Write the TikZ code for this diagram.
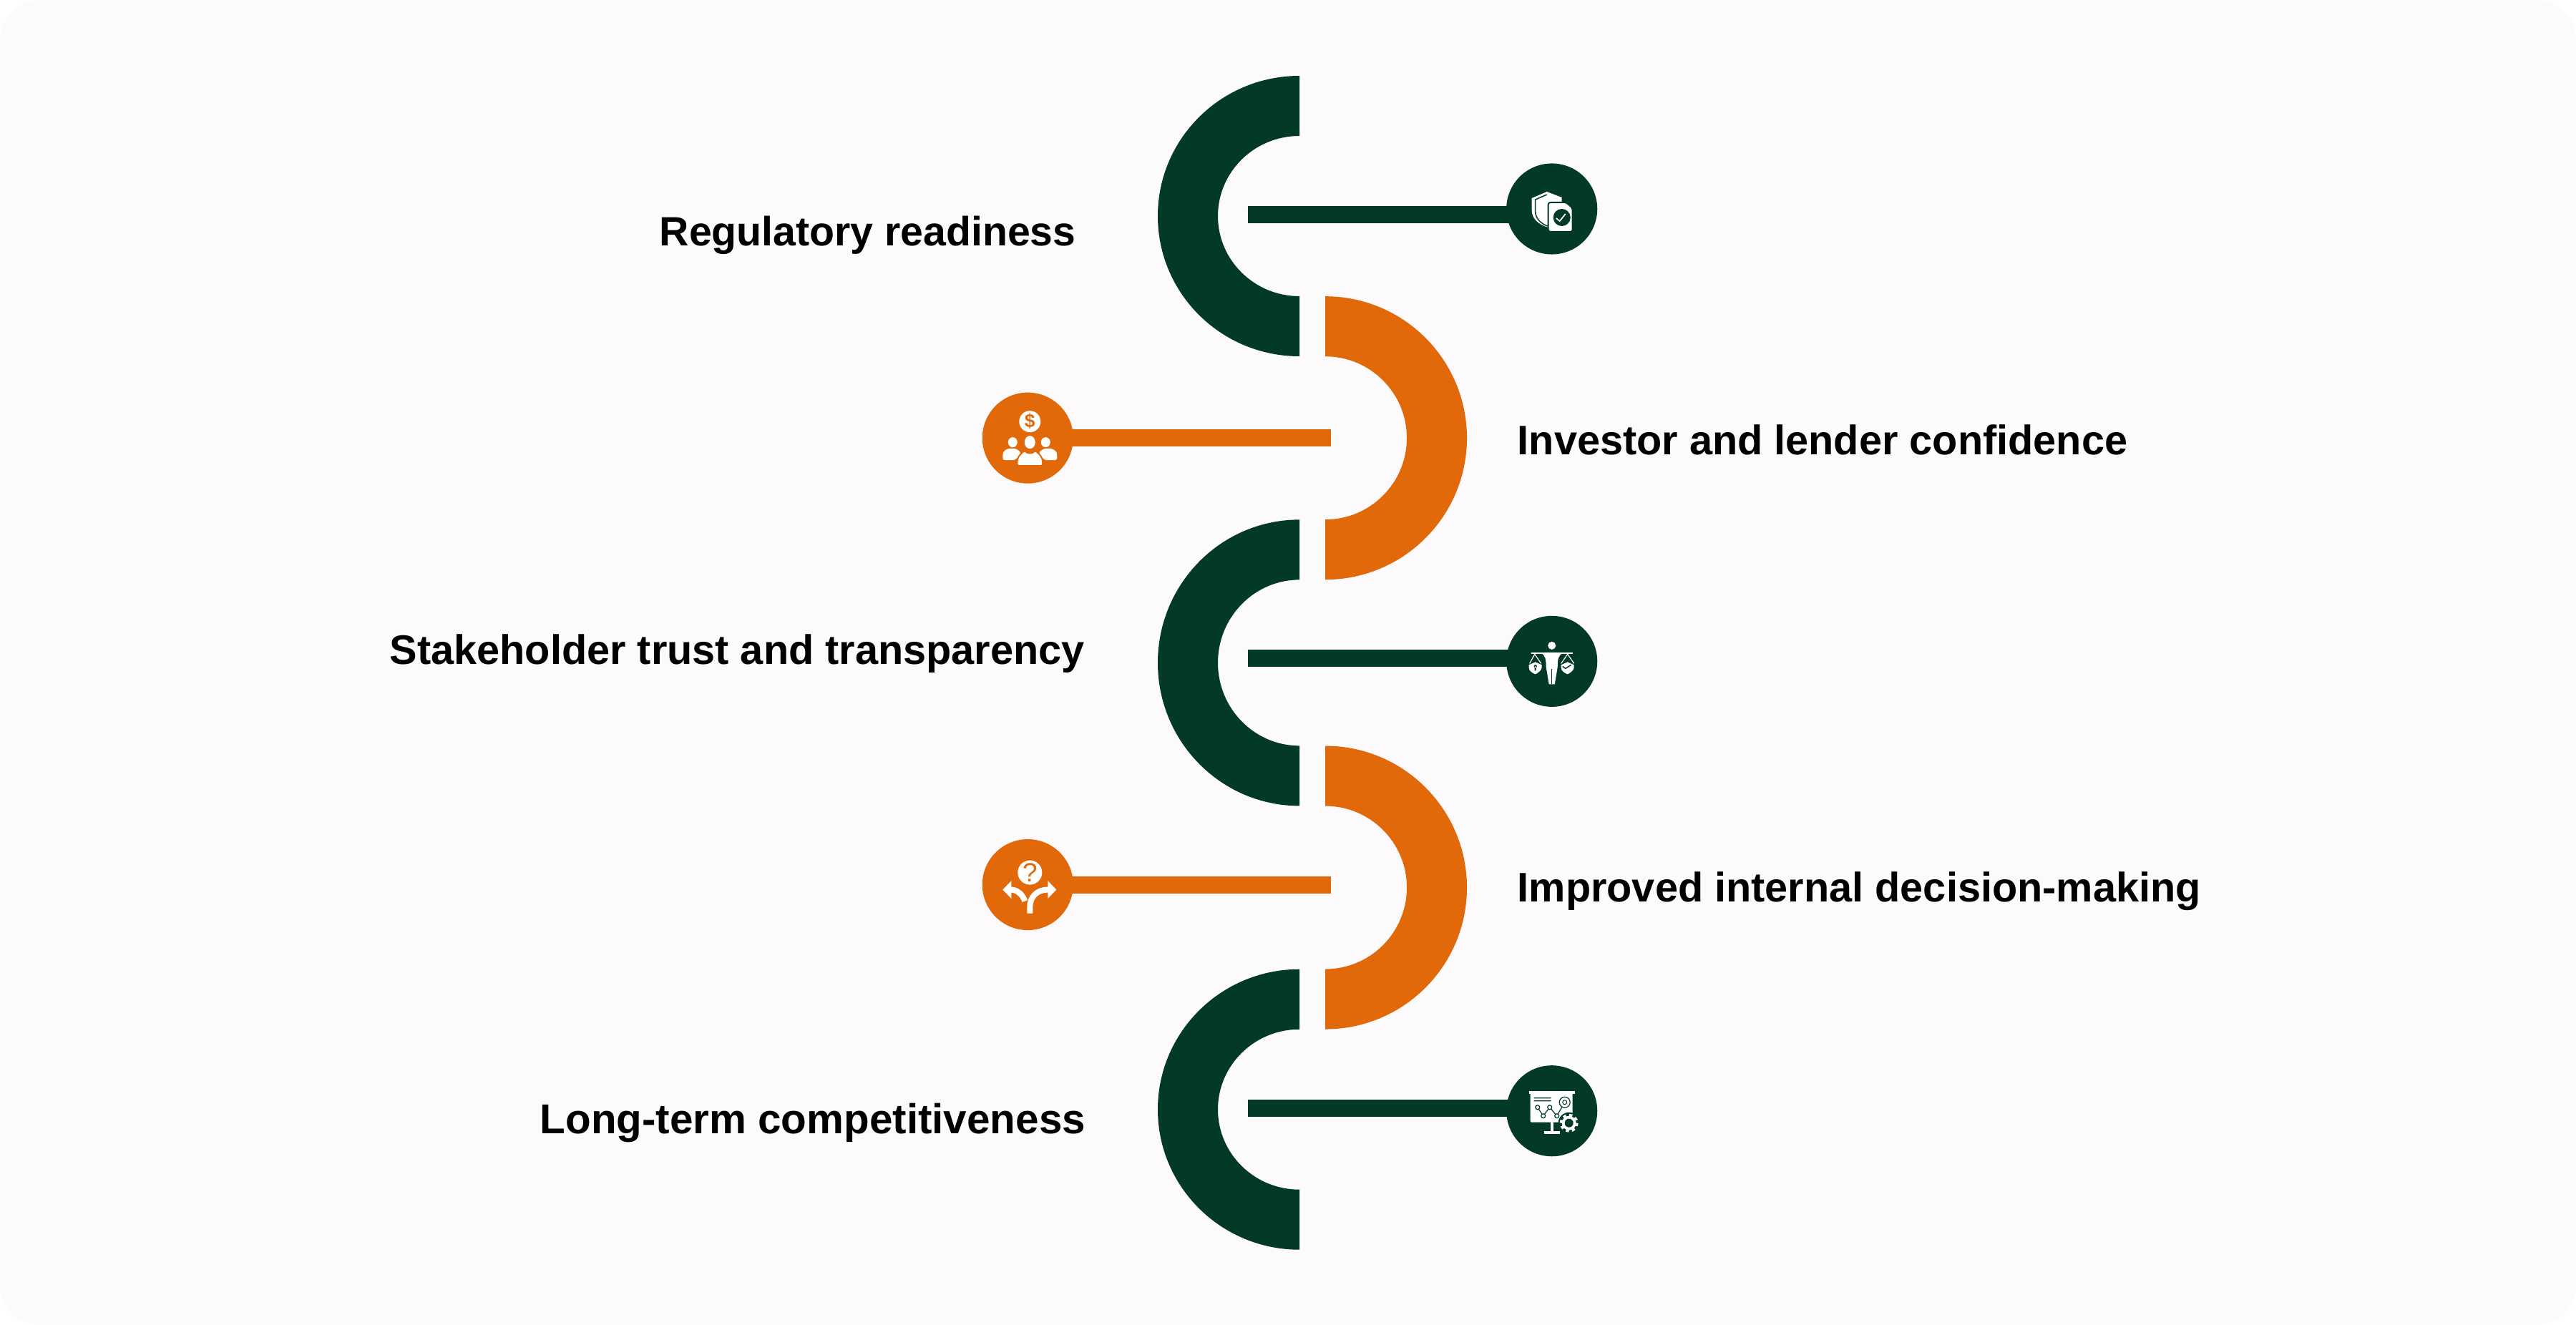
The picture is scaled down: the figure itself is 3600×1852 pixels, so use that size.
\documentclass[tikz,border=0pt]{standalone}
\usepackage{fontspec}
\setmainfont{Liberation Sans}
\usetikzlibrary{positioning, arrows.meta, calc}
\definecolor{page_bg}{HTML}{FCFAFD}
\definecolor{dark_green}{HTML}{023A27}
\definecolor{burnt_orange}{HTML}{E2690A}

\begin{document}
\begin{tikzpicture}[
  x=0.01cm, y=-0.01cm,
  ring_dark/.style = {fill=dark_green},
  ring_orange/.style = {fill=burnt_orange},
  link_dark/.style = {draw=dark_green, line width=0.24cm},
  link_orange/.style = {draw=burnt_orange, line width=0.24cm},
  disc_dark/.style = {circle, fill=dark_green, minimum size=1.27cm, inner sep=0pt, outer sep=0pt},
  disc_orange/.style = {circle, fill=burnt_orange, minimum size=1.27cm, inner sep=0pt, outer sep=0pt},
  label_text/.style = {anchor=base west, inner sep=0pt, font=\bfseries\fontsize{16.4pt}{20pt}\selectfont},
  icon_fill/.style = {fill=white},
  icon_line/.style = {draw=white, line width=0.08cm}
]
  \useasboundingbox (0,0) rectangle (3600,1852);
  \path[fill=page_bg, rounded corners=0.55cm] (0,0) rectangle (3600,1852);

  % Place the half rings
  \coordinate (ring_0) at (1816,302);
  \coordinate[below right=3.10cm and 0.36cm of ring_0] (ring_1);
  \coordinate[below left=3.14cm and 0.36cm of ring_1] (ring_2);
  \coordinate[below right=3.14cm and 0.36cm of ring_2] (ring_3);
  \coordinate[below left=3.10cm and 0.36cm of ring_3] (ring_4);

  % Draw the half rings
  \path[ring_dark]
    (ring_0) ++(0,-196)
      arc[start angle=270, end angle=90, x radius=198, y radius=196]
      -- ++(0,-84)
      arc[start angle=90, end angle=270, x radius=114, y radius=112]
      -- cycle
  ;
  \path[ring_orange]
    (ring_1) ++(0,-198)
      arc[start angle=270, end angle=450, x radius=198, y radius=198]
      -- ++(0,-84)
      arc[start angle=450, end angle=270, x radius=114, y radius=114]
      -- cycle
  ;
  \path[ring_dark]
    (ring_2) ++(0,-200)
      arc[start angle=270, end angle=90, x radius=198, y radius=200]
      -- ++(0,-84)
      arc[start angle=90, end angle=270, x radius=114, y radius=116]
      -- cycle
  ;
  \path[ring_orange]
    (ring_3) ++(0,-198)
      arc[start angle=270, end angle=450, x radius=198, y radius=198]
      -- ++(0,-84)
      arc[start angle=450, end angle=270, x radius=114, y radius=114]
      -- cycle
  ;
  \path[ring_dark]
    (ring_4) ++(0,-196)
      arc[start angle=270, end angle=90, x radius=198, y radius=196]
      -- ++(0,-84)
      arc[start angle=90, end angle=270, x radius=114, y radius=112]
      -- cycle
  ;

  % Place the link ends and the discs
  \coordinate[above left=0.02cm and 0.72cm of ring_0] (link_0);
  \coordinate[right=0.08cm of ring_1] (link_1);
  \coordinate[above left=0.06cm and 0.72cm of ring_2] (link_2);
  \coordinate[above right=0.04cm and 0.08cm of ring_3] (link_3);
  \coordinate[above left=0.02cm and 0.72cm of ring_4] (link_4);

  \node[disc_dark] (disc_0) [right=3.61cm of link_0, yshift=0.08cm] {};
  \node[disc_orange] (disc_1) [left=3.60cm of link_1] {};
  \node[disc_dark] (disc_2) [right=3.61cm of link_2, yshift=-0.04cm] {};
  \node[disc_orange] (disc_3) [left=3.60cm of link_3] {};
  \node[disc_dark] (disc_4) [right=3.61cm of link_4, yshift=-0.04cm] {};

  % Draw the links
  \path[link_dark] (link_0) -- (link_0 -| disc_0.center);
  \path[link_orange] (link_1) -- (link_1 -| disc_1.center);
  \path[link_dark] (link_2) -- (link_2 -| disc_2.center);
  \path[link_orange] (link_3) -- (link_3 -| disc_3.center);
  \path[link_dark] (link_4) -- (link_4 -| disc_4.center);

  % Labels
  \node[label_text, font=\bfseries\fontsize{16.27pt}{20pt}\selectfont] (label_0) at (921,344) {Regulatory readiness};
  \node[label_text] (label_1) at (2120,635) {Investor and lender confidence};
  \node[label_text] (label_2) at (544,928) {Stakeholder trust and transparency};
  \node[label_text] (label_3) at (2120,1260) {Improved internal decision-making};
  \node[label_text, font=\bfseries\fontsize{16.6pt}{20pt}\selectfont] (label_4) at (754,1584) {Long-term competitiveness};

  % Shield and document
  \begin{scope}[shift={(disc_0.center)}]
    \path[icon_fill]
      (-7,-24) -- (14,-16) -- (14,5)
        .. controls (12,18) and (3,24) .. (-5,26)
        .. controls (-18,22) and (-28,14) .. (-28,2)
        -- (-28,-15) -- cycle
    ;
    \path[draw=dark_green, line width=0.015cm]
      (-7,-20) -- (-23,-13) -- (-23,4) .. controls (-23,13) and (-15,21) .. (-6,24)
    ;
    \path[icon_fill, draw=dark_green, line width=0.02cm, rounded corners=0.03cm]
      (-5,-9) -- (20,-9) -- (29,-1) -- (29,32) -- (-5,32) -- cycle
    ;
    \path[fill=dark_green] (14,12) circle[radius=12];
    \path[draw=white, line width=0.017cm] (6,13) -- (11,17) -- (19,7);
  \end{scope}

  % Coin and people
  \begin{scope}[shift={(disc_1.center)}]
    \path[icon_fill] (3,-23) circle[radius=15];
    \node[text=burnt_orange, inner sep=0pt, font=\bfseries\fontsize{7.5pt}{8pt}\selectfont] (coin_sign) at (3,-23) {\$};
    \path[icon_fill] (-21,6) ellipse[x radius=6.5, y radius=7];
    \path[icon_fill] (25,6) ellipse[x radius=6.5, y radius=7];
    \path[icon_fill] (3,6) ellipse[x radius=7.5, y radius=9];
    \path[icon_fill, rounded corners=0.03cm]
      (-35,31) -- (-35,24) .. controls (-34,18) and (-28,14) .. (-21,15)
        .. controls (-16,15) and (-12,18) .. (-9,22) -- (-18,31) -- cycle
    ;
    \path[icon_fill, rounded corners=0.03cm]
      (41,31) -- (41,24) .. controls (40,18) and (34,14) .. (27,15)
        .. controls (22,15) and (18,18) .. (15,22) -- (24,31) -- cycle
    ;
    \path[icon_fill, draw=burnt_orange, line width=0.02cm, rounded corners=0.03cm]
      (-15,39) -- (-15,33) .. controls (-13,24) and (-7,20) .. (-4,17)
        .. controls (-1,22) and (7,22) .. (10,17)
        .. controls (13,20) and (19,24) .. (21,33) -- (21,39) -- cycle
    ;
  \end{scope}

  % Figure holding shields
  \begin{scope}[shift={(disc_2.center)}]
    \path[icon_fill] (0,-22) circle[radius=5.5];
    \path[icon_fill] (-29,-12) rectangle (29,-10);
    \path[icon_fill]
      (-14,-11) -- (14,-11) .. controls (10,-8) and (8,-5) .. (8,8)
        -- (4,32) -- (-4,32) -- (-8,8)
        .. controls (-8,-5) and (-10,-8) .. (-14,-11) -- cycle
    ;
    \path[draw=dark_green, line width=0.012cm] (0,11) -- (0,32);
    \path[draw=white, line width=0.012cm]
      (-31,3) -- (-24,-10) -- (-15,3)
      (13,3) -- (22,-10) -- (31,3)
    ;
    \path[icon_fill]
      (-23,1) -- (-14,5) -- (-14,9) .. controls (-15,13) and (-19,16) .. (-23,18)
        .. controls (-28,16) and (-32,13) .. (-32,9) -- (-32,5) -- cycle
    ;
    \path[fill=dark_green] (-23,7) circle[radius=2.2] (-24,7) rectangle (-22,13);
    \path[icon_fill]
      (22,1) -- (31,5) -- (31,9) .. controls (30,13) and (26,16) .. (22,18)
        .. controls (17,16) and (13,13) .. (13,9) -- (13,5) -- cycle
    ;
    \path[draw=dark_green, line width=0.015cm] (15,7) -- (19,10) -- (27,5);
  \end{scope}

  % Question and two ways
  \begin{scope}[shift={(disc_3.center)}]
    \path[icon_fill] (3,-17) circle[radius=17];
    \node[text=burnt_orange, inner sep=0pt, font=\fontsize{10.5pt}{12pt}\selectfont] (way_mark) at (3,-17) {?};
    \path[icon_line, -{Triangle[width=0.24cm, length=0.12cm]}]
      (3,40) -- (3,31) .. controls (3,17) and (13,7) .. (28,7) -- (40,7)
    ;
    \path[icon_line, -{Triangle[width=0.24cm, length=0.12cm]}]
      (-4,23) .. controls (-7,14) and (-14,8) .. (-22,7) -- (-35,7)
    ;
  \end{scope}

  % Board with chart and gear
  \begin{scope}[shift={(disc_4.center)}]
    \path[icon_fill] (-32,-28) rectangle (32,-24);
    \path[icon_fill, rounded corners=0.02cm] (-30,-25) rectangle (29,16);
    \path[icon_fill] (-2,15) rectangle (2,28);
    \path[icon_fill] (-11,28) rectangle (11,32);
    \path[draw=dark_green, line width=0.012cm]
      (-25,-18) -- (-1,-18)
      (-25,-14) -- (-1,-14)
      (-20,-5) -- (-12,7) -- (-3,-5) -- (7,7) -- (18,-12)
    ;
    \path[icon_fill, draw=dark_green, line width=0.012cm]
      (-20,-5) circle[radius=3]
      (-12,7) circle[radius=3]
      (-3,-5) circle[radius=3]
      (7,7) circle[radius=3]
      (18,-12) circle[radius=7.5]
    ;
    \path[draw=dark_green, line width=0.01cm] (18,-12) circle[radius=3];
    \path[fill=dark_green] (24,17) circle[radius=15];
    \path[icon_fill] (24,17) circle[radius=10];
    \path[draw=white, line width=0.04cm, dash pattern=on 1.2pt off 1.25pt] (24,17) circle[radius=11];
    \path[fill=dark_green] (24,17) circle[radius=6];
  \end{scope}
\end{tikzpicture}
\end{document}
